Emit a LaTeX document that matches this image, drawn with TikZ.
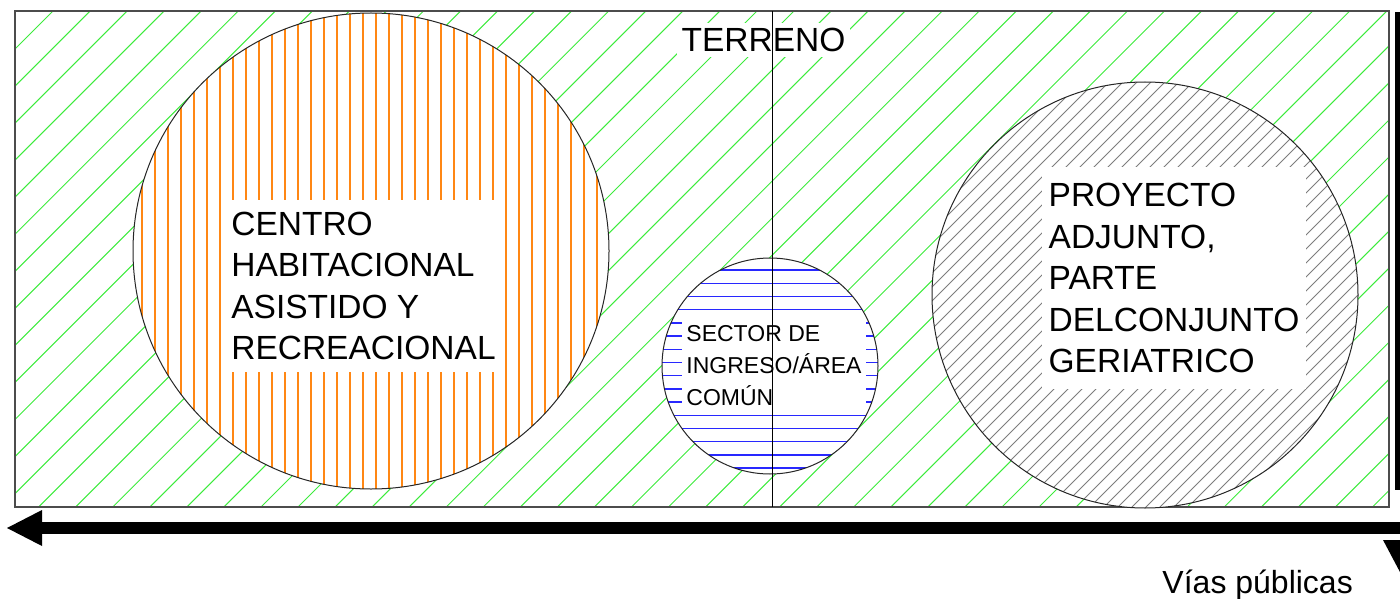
\documentclass[tikz,border=0pt]{standalone}
\usepackage{fontspec}
\setmainfont{Liberation Sans}
\usetikzlibrary{calc}
\definecolor{hatchgreen}{RGB}{60,235,60}
\definecolor{hatchorange}{RGB}{255,135,20}
\definecolor{hatchblue}{RGB}{40,40,255}
\definecolor{hatchgray}{RGB}{125,125,125}
\tikzset{
 lot/.style={draw=black!70,line width=1.3pt},
 axis/.style={draw=black,line width=1pt},
 greenhatch/.style={draw=hatchgreen,line width=1pt},
 orangehatch/.style={draw=hatchorange,line width=1.4pt},
 bluehatch/.style={draw=hatchblue,line width=1.4pt},
 grayhatch/.style={draw=hatchgray,line width=.9pt},
 zone/.style={draw=black!85,line width=1pt},
 zonelabel/.style={fill=white,align=left,inner xsep=7pt,font=\fontsize{33.5}{41.5}\selectfont},
 road/.style={line width=11.5pt},
 roadhead/.style={fill=black}
}

\begin{document}
\begin{tikzpicture}[x=1pt,y=-1pt]
\useasboundingbox (0,0) rectangle (1400,599);
\clip (0,0) rectangle (1400,599);
\coordinate (lotnw) at (15,11);
\coordinate (lotse) at (1389,507);
\coordinate (H) at (371,251);
\coordinate (I) at (770,366);
\coordinate (P) at (1145,295);
% terreno
\begin{scope}
\clip (lotnw) rectangle (lotse);
\foreach \k in {-1,...,50}
 \draw[greenhatch] ({64+37.05*\k},0) -- ++(-600,600);
\end{scope}
\draw[lot] (lotnw) rectangle (lotse);
% zonas
\fill[white] (H) circle[radius=238];
\fill[white] (I) circle[radius=108];
\fill[white] (P) circle[radius=213];
\begin{scope}
\clip (H) circle[radius=238];
\foreach \k in {9,...,47}
 \draw[orangehatch] ({12+13*\k},0) -- ++(0,600);
\end{scope}
\begin{scope}
\clip (I) circle[radius=108];
\foreach \k in {-1,...,17}
 \draw[bluehatch] (600,{270+13.2*\k}) -- ++(400,0);
\end{scope}
\begin{scope}
\clip (P) circle[radius=213];
\foreach \k in {0,...,44}
 \draw[grayhatch] ({1135+14*\k},0) -- ++(-600,600);
\end{scope}
\draw[zone] (H) circle[radius=238];
\draw[zone] (I) circle[radius=108];
\draw[zone] (P) circle[radius=213];
\node[zonelabel,inner ysep=12pt] (habitacional) at (363.5,286) {CENTRO\\HABITACIONAL\\ASISTIDO Y\\RECREACIONAL};
\node[zonelabel,inner xsep=4pt,inner ysep=6pt,font=\fontsize{23}{32}\selectfont] (ingreso) at (774,366) {SECTOR DE\\INGRESO/ÁREA\\COMÚN};
\node[zonelabel,inner ysep=16pt] (proyecto) at (1174,278) {PROYECTO\\ADJUNTO,\\PARTE\\DELCONJUNTO\\GERIATRICO};
\node[fill=white,inner sep=5pt,font=\fontsize{33.5}{41.5}\selectfont] (terreno) at (763.5,40) {TERRENO};
% eje
\coordinate (axisn) at (772,11);
\coordinate (axiss) at (772,507);
\draw[axis] (axisn) -- (axiss);
% vias
\coordinate (roadw) at (7,528);
\coordinate (roadc) at (1402,528);
\coordinate (roadn) at (1401,12);
\coordinate (roads) at (1401,574);
\draw[road] ($(roadw)+(33,0)$) -- (roadc);
\fill[roadhead] (roadw) -- ++(35,-18) -- ++(0,36) -- cycle;
\draw[road] (roadn) -- (1401,490);
\fill[roadhead] (roads) -- ++(-18,-34) -- ++(36,0) -- cycle;
\node[anchor=base east,inner sep=0,font=\fontsize{32}{38}\selectfont] (vias) at (1353,593) {Vías públicas};
\end{tikzpicture}
\end{document}
